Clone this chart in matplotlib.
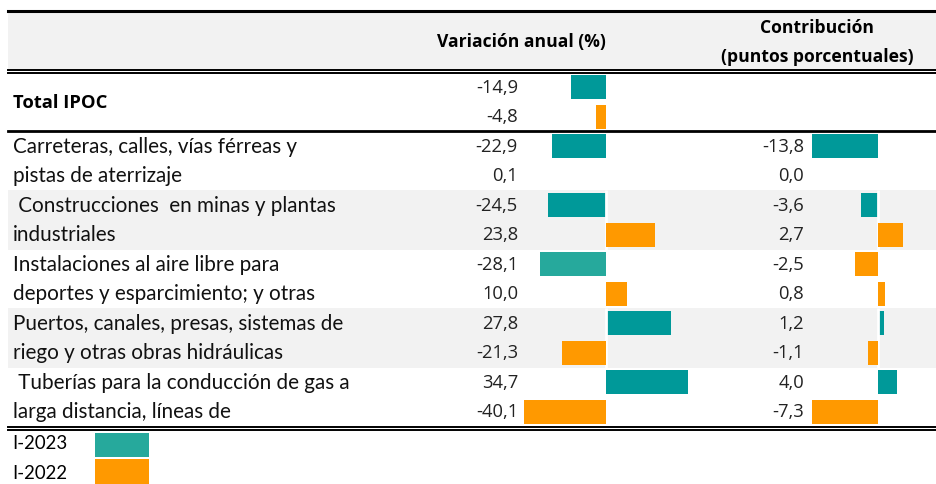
import matplotlib.pyplot as plt

# data
labels = ["Carreteras, calles, vías férreas y", "pistas de aterrizaje",
          " Construcciones  en minas y plantas", "industriales",
          "Instalaciones al aire libre para", "deportes y esparcimiento; y otras",
          "Puertos, canales, presas, sistemas de", "riego y otras obras hidráulicas",
          " Tuberías para la conducción de gas a", "larga distancia, líneas de"]
total_var = [-14.9, -4.8]          # I-2023, I-2022
var_2023 = [-22.9, -24.5, -28.1, 27.8, 34.7]
var_2022 = [0.1, 23.8, 10.0, -21.3, -40.1]
con_2023 = [-13.8, -3.6, -2.5, 1.2, 4.0]
con_2022 = [0.0, 2.7, 0.8, -1.1, -7.3]
legend_labels = ["I-2023", "I-2022"]

TEAL = "#009999"
TEAL_L = "#26A99C"
ORANGE = "#FF9900"
GRAY = "#F2F2F2"

W, H = 936, 485
fig = plt.figure(figsize=(W / 100, H / 100), dpi=100)
ax = fig.add_axes([0, 0, 1, 1])
ax.set_xlim(0, W)
ax.set_ylim(H, 0)
ax.axis("off")

num_font = "Open Sans"
lab_font = "Lato"

# row centres in the sheet
row_y = [147 + 29.5 * i for i in range(10)]
tot_y = [88, 117.5]

# header band and gray row bands
ax.axhspan(13, 70, xmin=8 / W, xmax=1, color=GRAY, lw=0)
bands = [(row_y[i] - 15, row_y[i + 1] + 15) for i in (2, 6)]
for y0, y1 in bands:
    ax.axhspan(y0, y1, xmin=8 / W, xmax=1, color=GRAY, lw=0)

# rules
ax.plot([8, W], [12, 12], color="black", lw=2.2)
ax.plot([8, W], [70.5, 70.5], color="black", lw=1.4)
ax.plot([8, W], [73.8, 73.8], color="black", lw=1.4)
ax.plot([8, W], [132, 132], color="black", lw=2.0)
ax.plot([8, W], [427.8, 427.8], color="black", lw=1.4)
ax.plot([8, W], [431.2, 431.2], color="black", lw=1.4)

# headers
hdr = dict(ha="center", va="center", fontsize=12.6, fontweight="bold", family=num_font)
ax.text(521, 42, "Variación anual (%)", **hdr)
ax.text(817, 28, "Contribución", **hdr)
ax.text(817, 57, "(puntos porcentuales)", **hdr)

ax.text(13, 103, "Total IPOC", ha="left", va="center",
        fontsize=13.2, fontweight="bold", family=num_font)


def fmt(v):
    return f"{v:.1f}".replace(".", ",")


num = dict(ha="right", va="center", fontsize=13.2, family=num_font, color="#222222")
for y, v in zip(tot_y, total_var):
    ax.text(518, y, fmt(v), **num)

var_vals = [v for pair in zip(var_2023, var_2022) for v in pair]
con_vals = [v for pair in zip(con_2023, con_2022) for v in pair]
for y, lab, v1, v2 in zip(row_y, labels, var_vals, con_vals):
    ax.text(13, y, lab, ha="left", va="center", fontsize=14.9, family=lab_font, color="#111111")
    ax.text(518, y, fmt(v1), **num)
    ax.text(804, y, fmt(v2), **num)


def bar_axes(x0, x1, zero, ppu):
    a = fig.add_axes([x0 / W, 0, (x1 - x0) / W, 1])
    a.set_xlim((x0 - zero) / ppu, (x1 - zero) / ppu)
    a.set_ylim(H, 0)
    a.axis("off")
    a.patch.set_alpha(0)
    return a


# each series gets its own scale, like Excel data bars
v_t = bar_axes(524, 700, 606, 2.35)
v_o = bar_axes(524, 700, 606, 2.05)
c_t = bar_axes(811, 936, 878, 4.8)
c_o = bar_axes(811, 936, 878, 9.1)

bh = 24
v_t.barh(tot_y[0], total_var[0], height=bh, color=TEAL)
v_o.barh(tot_y[1], total_var[1], height=bh, color=ORANGE)

teal_rows = [0, 2, 4, 6, 8]
orange_rows = [1, 3, 5, 7, 9]
var_t_color = [TEAL, TEAL, TEAL_L, TEAL, TEAL]
con_t_color = [TEAL, TEAL, ORANGE, TEAL, TEAL]
for k, i in enumerate(teal_rows):
    v_t.barh(row_y[i], var_2023[k], height=bh, color=var_t_color[k])
    if con_t_color[k] == ORANGE:
        c_o.barh(row_y[i], con_2023[k], height=bh, color=ORANGE)
    else:
        c_t.barh(row_y[i], con_2023[k], height=bh, color=TEAL)
for k, i in enumerate(orange_rows):
    v_o.barh(row_y[i], var_2022[k], height=bh, color=ORANGE)
    c_o.barh(row_y[i], con_2022[k], height=bh, color=ORANGE)

# white zero axis, visible only where the cell is shaded
for a in (v_t, c_t):
    for y0, y1 in bands:
        a.plot([0, 0], [y0, y1], color="white", lw=2, solid_capstyle="butt")

# legend
ax.text(12, 444, legend_labels[0], ha="left", va="center", fontsize=13.4, family=lab_font)
ax.text(12, 474, legend_labels[1], ha="left", va="center", fontsize=13.4, family=lab_font)
ax.add_patch(plt.Rectangle((95, 434), 54, 24, color=TEAL_L, lw=0))
ax.add_patch(plt.Rectangle((95, 460), 54, 25, color=ORANGE, lw=0))

fig.savefig("out.png", dpi=100)
